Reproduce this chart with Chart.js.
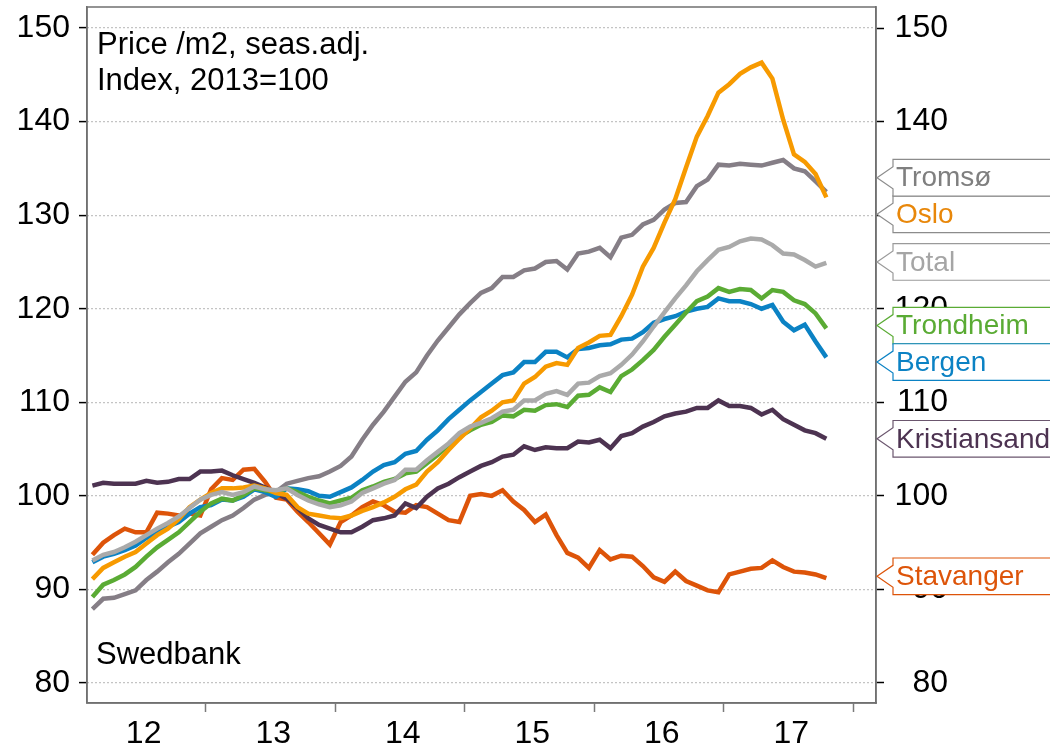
<!DOCTYPE html>
<html>
<head>
<meta charset="utf-8">
<title>House prices, Norway</title>
<script src="https://cdn.jsdelivr.net/npm/chart.js@4.4.0/dist/chart.umd.min.js"></script>
<style>
  html, body { margin: 0; padding: 0; background: #fff; }
  #wrap { width: 1050px; height: 750px; position: relative; }
</style>
</head>
<body>
<div id="wrap"><canvas id="chart"></canvas></div>
<script>
// Monthly index values, Feb 2012 - Oct 2017 (2013 = 100)
const yearLabels = ['12', '13', '14', '15', '16', '17'];
const yTicks = [80, 90, 100, 110, 120, 130, 140, 150];
const noteLines = ['Price /m2, seas.adj.', 'Index, 2013=100'];
const sourceNote = 'Swedbank';

const total = [93.1, 93.7, 94.0, 94.5, 95.1, 95.8, 96.5, 97.1, 97.8, 98.7,
  99.6, 100.1, 100.4, 100.1, 100.4, 101.0, 100.7, 100.6, 100.8, 100.1,
  99.5, 99.1, 98.8, 99.0, 99.4, 100.3, 100.8, 101.3, 101.7, 102.8,
  102.8, 103.8, 104.7, 105.6, 106.7, 107.4, 107.8, 108.3, 109.0, 109.2,
  110.2, 110.2, 110.9, 111.2, 110.8, 112.0, 112.1, 112.8, 113.1, 114.0,
  115.1, 116.5, 118.1, 119.6, 121.1, 122.5, 124.0, 125.2, 126.3, 126.6,
  127.2, 127.5, 127.4, 126.8, 125.9, 125.8, 125.2, 124.5, 124.9];
const oslo = [91.1, 92.3, 92.9, 93.5, 94.0, 94.9, 95.8, 96.5, 97.5, 98.8,
  99.6, 100.3, 100.8, 100.8, 100.9, 101.1, 100.8, 100.3, 100.1, 98.8,
  98.1, 97.9, 97.7, 97.6, 97.9, 98.4, 98.8, 99.3, 99.9, 100.7,
  101.2, 102.6, 103.6, 104.9, 106.1, 107.2, 108.4, 109.1, 110.0, 110.2,
  112.0, 112.7, 113.8, 114.2, 114.0, 115.8, 116.4, 117.1, 117.2, 119.2,
  121.5, 124.5, 126.5, 129.2, 131.7, 135.1, 138.4, 140.6, 143.1, 144.0,
  145.1, 145.8, 146.3, 144.6, 140.2, 136.5, 135.7, 134.4, 131.9];
const trondheim = [89.2, 90.5, 91.0, 91.6, 92.4, 93.5, 94.5, 95.3, 96.1, 97.2,
  98.3, 99.2, 99.7, 99.5, 100.1, 100.8, 100.6, 100.4, 100.8, 100.4,
  99.9, 99.5, 99.2, 99.5, 99.8, 100.6, 101.0, 101.5, 101.8, 102.4,
  102.6, 103.5, 104.4, 105.4, 106.3, 107.0, 107.6, 107.9, 108.6, 108.5,
  109.2, 109.1, 109.7, 109.8, 109.5, 110.7, 110.8, 111.6, 111.1, 112.8,
  113.5, 114.5, 115.6, 117.0, 118.3, 119.6, 120.8, 121.3, 122.2, 121.8,
  122.1, 122.0, 121.1, 122.0, 121.8, 120.9, 120.5, 119.5, 117.9];
const bergen = [92.9, 93.5, 93.8, 94.2, 94.7, 95.5, 96.1, 96.7, 97.2, 98.1,
  98.8, 99.0, 99.6, 99.5, 99.9, 100.7, 100.4, 99.9, 100.8, 100.7,
  100.5, 100.0, 99.9, 100.4, 100.9, 101.7, 102.6, 103.3, 103.6, 104.5,
  104.8, 106.0, 107.0, 108.2, 109.2, 110.2, 111.1, 112.0, 112.9, 113.2,
  114.3, 114.3, 115.4, 115.4, 114.8, 115.7, 115.8, 116.1, 116.2, 116.7,
  116.8, 117.5, 118.5, 118.9, 119.2, 119.7, 120.0, 120.2, 121.1, 120.8,
  120.8, 120.5, 120.0, 120.4, 118.6, 117.7, 118.3, 116.5, 114.8];
const tromso = [87.9, 89.0, 89.1, 89.5, 89.9, 91.0, 91.9, 92.9, 93.8, 94.9,
  96.0, 96.7, 97.4, 97.9, 98.7, 99.6, 100.1, 100.4, 101.3, 101.6,
  101.9, 102.1, 102.6, 103.2, 104.2, 106.0, 107.6, 109.0, 110.6, 112.2,
  113.2, 115.0, 116.6, 118.0, 119.4, 120.6, 121.7, 122.2, 123.4, 123.4,
  124.1, 124.3, 125.0, 125.1, 124.2, 125.9, 126.1, 126.5, 125.5, 127.6,
  127.9, 129.0, 129.5, 130.6, 131.3, 131.4, 133.1, 133.8, 135.4, 135.3,
  135.5, 135.4, 135.3, 135.6, 135.9, 135.0, 134.7, 133.6, 132.5];
const kristiansand = [101.1, 101.4, 101.3, 101.3, 101.3, 101.6, 101.4, 101.5, 101.8, 101.8,
  102.6, 102.6, 102.7, 102.2, 101.8, 101.4, 100.9, 100.3, 99.7, 98.7,
  97.6, 96.9, 96.5, 96.1, 96.1, 96.7, 97.4, 97.6, 97.9, 99.2,
  98.7, 99.9, 100.8, 101.3, 102.0, 102.6, 103.2, 103.6, 104.2, 104.4,
  105.3, 104.9, 105.2, 105.1, 105.1, 105.8, 105.7, 106.0, 105.1, 106.4,
  106.7, 107.4, 107.9, 108.5, 108.8, 109.0, 109.4, 109.4, 110.2, 109.6,
  109.6, 109.4, 108.7, 109.2, 108.2, 107.6, 107.0, 106.7, 106.1];
const stavanger = [93.7, 95.0, 95.8, 96.5, 96.1, 96.1, 98.2, 98.1, 97.9, 98.1,
  97.9, 100.7, 101.9, 101.7, 102.8, 102.9, 101.5, 99.8, 99.6, 98.3,
  97.2, 96.0, 94.8, 97.2, 97.9, 98.8, 99.4, 99.0, 98.3, 98.2,
  99.0, 98.8, 98.1, 97.4, 97.2, 100.0, 100.2, 100.0, 100.6, 99.4,
  98.5, 97.2, 98.0, 95.8, 93.9, 93.4, 92.3, 94.2, 93.2, 93.6,
  93.5, 92.5, 91.3, 90.8, 91.9, 90.9, 90.4, 89.9, 89.7, 91.6,
  91.9, 92.2, 92.3, 93.1, 92.4, 91.9, 91.8, 91.6, 91.2];

// first dataset is drawn on top
const seriesNames = ['Total', 'Oslo', 'Trondheim', 'Bergen', 'Tromsø', 'Kristiansand', 'Stavanger'];
const seriesData = [total, oslo, trondheim, bergen, tromso, kristiansand, stavanger];
const lineColors = ['#aaaaaa', '#f79a00', '#5aab34', '#0b82c4', '#857e86', '#4d3351', '#dd5409'];
const textColors = ['#a5a5a5', '#e8870a', '#5aab34', '#0b82c4', '#7f7f7f', '#4d3351', '#dd5409'];
const boxColors = ['#9a9a9a', '#8c8c8c', '#5aab34', '#0b82c4', '#8c8c8c', '#6b566e', '#dd5409'];
// where the end labels sit on the y axis (spread so they do not overlap)
const labelPos = [125.0, 130.1, 118.2, 114.3, 134.0, 106.1, 91.4];

// x is a month index, 0 = Feb 2012; year boundaries fall between Dec and Jan
const yearEdges = [10.5, 22.5, 34.5, 46.5, 58.5, 70.5];
const yearMids = [4.75, 16.75, 28.75, 40.75, 52.75, 64.75];

const FONT = '"Liberation Sans", Arial, sans-serif';
Chart.defaults.font.family = FONT;
Chart.defaults.color = '#000';

const datasets = seriesNames.map((name, k) => ({
  label: name,
  data: seriesData[k].map((v, i) => ({ x: i, y: v })),
  borderColor: lineColors[k],
  borderWidth: 4.5,
  pointRadius: 0,
  tension: 0,
  fill: false,
  yAxisID: 'y'
}));

const framePlugin = {
  id: 'frame',
  afterDraw(chart) {
    const { ctx, chartArea: a, scales } = chart;
    ctx.save();
    ctx.strokeStyle = '#707070';
    ctx.lineWidth = 1.5;
    ctx.strokeRect(a.left, a.top, a.right - a.left, a.bottom - a.top);

    ctx.fillStyle = '#000';
    ctx.font = '31px ' + FONT;
    ctx.textAlign = 'left';
    ctx.textBaseline = 'alphabetic';
    ctx.fillText(noteLines[0], a.left + 10, 54);
    ctx.fillText(noteLines[1], a.left + 10, 90);
    ctx.fillText(sourceNote, a.left + 9, 664);

    // end labels with arrow boxes
    ctx.font = '28px ' + FONT;
    const tip = a.right + 1;
    const bx = tip + 16;
    const far = chart.width + 10;
    seriesNames.forEach((name, k) => {
      const y = scales.y.getPixelForValue(labelPos[k]);
      const top = y - 18.3, bot = y + 18.3;
      ctx.beginPath();
      ctx.moveTo(far, top);
      ctx.lineTo(bx, top);
      ctx.lineTo(bx, y - 11);
      ctx.lineTo(tip, y);
      ctx.lineTo(bx, y + 11);
      ctx.lineTo(bx, bot);
      ctx.lineTo(far, bot);
      ctx.fillStyle = '#fff';
      ctx.fill();
      ctx.strokeStyle = boxColors[k];
      ctx.lineWidth = 1.2;
      ctx.stroke();
      ctx.fillStyle = textColors[k];
      ctx.textBaseline = 'middle';
      ctx.fillText(name, bx + 3, y + 1);
    });
    ctx.restore();
  }
};

const yTickBuilder = scale => { scale.ticks = yTicks.map(v => ({ value: v })); };
// keep the plot box where the reference has it: no extra room for half labels
const fitY = w => scale => {
  scale.width = w;
  scale.paddingTop = 0;
  scale.paddingBottom = 0;
};

new Chart(document.getElementById('chart'), {
  type: 'line',
  data: { datasets },
  options: {
    responsive: true,
    maintainAspectRatio: false,
    animation: false,
    layout: { padding: { top: 7, right: 102, left: 0, bottom: 0 } },
    plugins: { legend: { display: false }, tooltip: { enabled: false } },
    scales: {
      x: {
        type: 'linear',
        min: -0.5,
        max: 72.6,
        afterBuildTicks: scale => {
          scale.ticks = yearEdges.concat(yearMids).sort((p, q) => p - q).map(v => ({ value: v }));
        },
        afterFit: scale => {
          scale.height = 47;
          scale.paddingLeft = 0;
          scale.paddingRight = 0;
        },
        grid: {
          drawOnChartArea: false,
          drawTicks: true,
          tickLength: 9,
          tickWidth: 1.5,
          tickColor: ctx => (ctx.tick && yearEdges.includes(ctx.tick.value)) ? '#7a7a7a' : 'rgba(0,0,0,0)'
        },
        border: { display: true, color: '#707070', width: 1.5 },
        ticks: {
          autoSkip: false,
          maxRotation: 0,
          padding: 3,
          font: { size: 32 },
          color: '#000',
          callback: value => {
            const k = yearMids.indexOf(value);
            return k >= 0 ? yearLabels[k] : '';
          }
        }
      },
      y: {
        position: 'left',
        min: 77.86,
        max: 152.25,
        afterBuildTicks: yTickBuilder,
        afterFit: fitY(87),
        grid: {
          color: '#8a8a8a',
          lineWidth: 1.2,
          tickLength: 8,
          tickColor: '#000',
          tickWidth: 1.5,
          tickBorderDash: []
        },
        border: { display: true, color: '#707070', width: 1.5, dash: [1, 3] },
        ticks: { padding: 9, font: { size: 32 }, color: '#000' }
      },
      y2: {
        position: 'right',
        min: 77.86,
        max: 152.25,
        afterBuildTicks: yTickBuilder,
        afterFit: fitY(72),
        grid: {
          drawOnChartArea: false,
          tickLength: 8,
          tickColor: '#000',
          tickWidth: 1.5
        },
        border: { display: true, color: '#707070', width: 1.5 },
        ticks: { padding: 12, crossAlign: 'far', font: { size: 32 }, color: '#000' }
      }
    }
  },
  plugins: [framePlugin]
});
</script>
</body>
</html>
